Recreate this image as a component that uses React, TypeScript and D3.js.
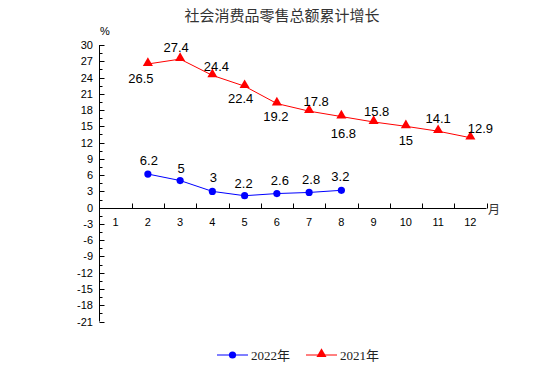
import React, { useRef, useEffect } from 'react';
import * as d3 from 'd3';

// values
const months = [1, 2, 3, 4, 5, 6, 7, 8, 9, 10, 11, 12];
const yTicks = [30, 27, 24, 21, 18, 15, 12, 9, 6, 3, 0, -3, -6, -9, -12, -15, -18, -21];
const months2022 = [2, 3, 4, 5, 6, 7, 8];
const values2022 = [6.2, 5, 3, 2.2, 2.6, 2.8, 3.2];
const months2021 = [2, 3, 4, 5, 6, 7, 8, 9, 10, 11, 12];
const values2021 = [26.5, 27.4, 24.4, 22.4, 19.2, 17.8, 16.8, 15.8, 15, 14.1, 12.9];

// label nudges (dx, dy from point to text baseline)
const offsets2022 = [[1, -9], [1, -8], [1, -9], [-1, -8], [3, -9], [2, -8], [-1, -9]];
const offsets2021 = [[-7, 19], [-4, -7], [4, -4], [-4, 17], [-1, 17], [7, -5], [2, 21], [3, -6], [0, 19], [0, -8], [10, -5]];

const W = 554;
const H = 387;

const App = () => {
  const svgRef = useRef<SVGSVGElement>(null);

  useEffect(() => {
    if (!svgRef.current) return;
    const svg = d3.select(svgRef.current);
    svg.selectAll('*').remove();

    const x = d3.scaleBand<number>().domain(months).range([99.5, 486.5]).paddingInner(0).paddingOuter(0);
    const y = d3.scaleLinear().domain([-21, 30]).range([321.5, 45]);
    const cx = (m: number) => (x(m) as number) + x.bandwidth() / 2;
    const sans = 'Arial, "Liberation Sans", sans-serif';

    // title
    svg.append('text')
      .attr('x', 282).attr('y', 21)
      .attr('text-anchor', 'middle')
      .attr('font-family', '"Noto Sans CJK SC", sans-serif')
      .attr('font-size', 15)
      .attr('fill', '#333')
      .text('社会消费品零售总额累计增长');

    // y axis
    const yAxis = svg.append('g');
    yAxis.append('line')
      .attr('x1', 99.5).attr('x2', 99.5)
      .attr('y1', y(30)).attr('y2', y(-21))
      .attr('stroke', '#000');
    yTicks.forEach(t => {
      yAxis.append('line')
        .attr('x1', 99.5).attr('x2', 104.5)
        .attr('y1', Math.round(y(t)) + 0.5).attr('y2', Math.round(y(t)) + 0.5)
        .attr('stroke', '#000');
      yAxis.append('text')
        .attr('x', 93).attr('y', y(t) + 4)
        .attr('text-anchor', 'end')
        .attr('font-family', sans).attr('font-size', 11)
        .text(t);
    });
    for (let t = -19.5; t < 30; t += 3) {
      yAxis.append('line')
        .attr('x1', 99.5).attr('x2', 102.5)
        .attr('y1', Math.round(y(t)) + 0.5).attr('y2', Math.round(y(t)) + 0.5)
        .attr('stroke', '#000');
    }
    yAxis.append('text')
      .attr('x', 105).attr('y', 35)
      .attr('text-anchor', 'middle')
      .attr('font-family', sans).attr('font-size', 11)
      .text('%');

    // x axis at zero
    const y0 = Math.round(y(0)) + 0.5;
    const xAxis = svg.append('g');
    xAxis.append('line')
      .attr('x1', 99.5).attr('x2', 486.5)
      .attr('y1', y0).attr('y2', y0)
      .attr('stroke', '#000');
    months.forEach(m => {
      const right = Math.round((x(m) as number) + x.bandwidth()) + 0.5;
      xAxis.append('line')
        .attr('x1', right).attr('x2', right)
        .attr('y1', y0).attr('y2', y0 - 5)
        .attr('stroke', '#000');
      xAxis.append('text')
        .attr('x', cx(m)).attr('y', y0 + 17)
        .attr('text-anchor', 'middle')
        .attr('font-family', sans).attr('font-size', 11)
        .text(m);
    });
    xAxis.append('text')
      .attr('x', 494).attr('y', y0 + 5)
      .attr('text-anchor', 'middle')
      .attr('font-family', '"Noto Sans CJK SC", sans-serif')
      .attr('font-size', 12)
      .attr('fill', '#333')
      .text('月');

    const line = d3.line<[number, number]>().x(d => cx(d[0])).y(d => y(d[1]));
    const tri = d3.symbol().type(d3.symbolTriangle).size(44);

    // 2021 series
    const d2021 = months2021.map((m, i) => [m, values2021[i]] as [number, number]);
    svg.append('path').datum(d2021)
      .attr('d', line).attr('fill', 'none')
      .attr('stroke', '#ff0000').attr('stroke-width', 1);
    svg.selectAll('.tri').data(d2021).enter().append('path')
      .attr('class', 'tri')
      .attr('d', tri)
      .attr('transform', d => `translate(${cx(d[0])},${y(d[1]) - 1})`)
      .attr('fill', '#ff0000');
    svg.selectAll('.lbl21').data(d2021).enter().append('text')
      .attr('class', 'lbl21')
      .attr('x', (d, i) => cx(d[0]) + offsets2021[i][0])
      .attr('y', (d, i) => y(d[1]) + offsets2021[i][1])
      .attr('text-anchor', 'middle')
      .attr('font-family', sans).attr('font-size', 13)
      .text(d => d[1]);

    // 2022 series
    const d2022 = months2022.map((m, i) => [m, values2022[i]] as [number, number]);
    svg.append('path').datum(d2022)
      .attr('d', line).attr('fill', 'none')
      .attr('stroke', '#0000ff').attr('stroke-width', 1);
    svg.selectAll('.dot').data(d2022).enter().append('circle')
      .attr('class', 'dot')
      .attr('cx', d => cx(d[0])).attr('cy', d => y(d[1]))
      .attr('r', 3.6)
      .attr('fill', '#0000ff');
    svg.selectAll('.lbl22').data(d2022).enter().append('text')
      .attr('class', 'lbl22')
      .attr('x', (d, i) => cx(d[0]) + offsets2022[i][0])
      .attr('y', (d, i) => y(d[1]) + offsets2022[i][1])
      .attr('text-anchor', 'middle')
      .attr('font-family', sans).attr('font-size', 13)
      .text(d => d[1]);

    // legend
    const legend = svg.append('g');
    const ly = 355;
    legend.append('line').attr('x1', 217).attr('x2', 248).attr('y1', ly).attr('y2', ly).attr('stroke', '#0000ff');
    legend.append('circle').attr('cx', 232.5).attr('cy', ly).attr('r', 3.6).attr('fill', '#0000ff');
    legend.append('text')
      .attr('x', 251).attr('y', ly + 5)
      .attr('font-family', '"Liberation Serif", "Noto Sans CJK SC", serif')
      .attr('font-size', 13).attr('fill', '#222')
      .text('2022年');
    legend.append('line').attr('x1', 306).attr('x2', 337).attr('y1', ly).attr('y2', ly).attr('stroke', '#ff0000');
    legend.append('path').attr('d', tri).attr('transform', `translate(321.5,${ly - 1})`).attr('fill', '#ff0000');
    legend.append('text')
      .attr('x', 340).attr('y', ly + 5)
      .attr('font-family', '"Liberation Serif", "Noto Sans CJK SC", serif')
      .attr('font-size', 13).attr('fill', '#222')
      .text('2021年');
  }, []);

  return (
    <svg
      ref={svgRef}
      width={W}
      height={H}
      style={{ position: 'absolute', left: 0, top: 0, background: '#fff' }}
    />
  );
};

export default App;
